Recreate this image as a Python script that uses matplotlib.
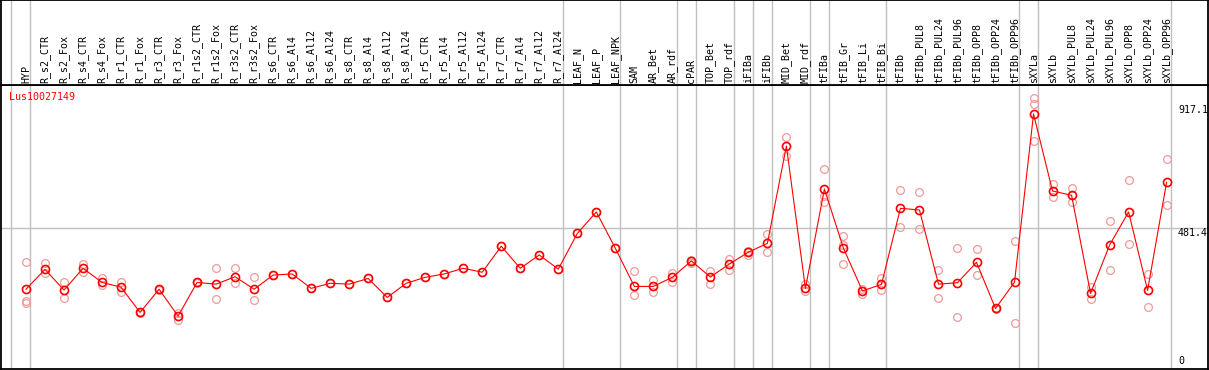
import matplotlib
matplotlib.use("Agg")
import matplotlib.pyplot as plt

# ---------------- data ----------------
categories = [
    "HYP", "R_s2_CTR", "R_s2_Fox", "R_s4_CTR", "R_s4_Fox", "R_r1_CTR", "R_r1_Fox",
    "R_r3_CTR", "R_r3_Fox", "R_r1s2_CTR", "R_r1s2_Fox", "R_r3s2_CTR", "R_r3s2_Fox",
    "R_s6_CTR", "R_s6_Al4", "R_s6_Al12", "R_s6_Al24", "R_s8_CTR", "R_s8_Al4",
    "R_s8_Al12", "R_s8_Al24", "R_r5_CTR", "R_r5_Al4", "R_r5_Al12", "R_r5_Al24",
    "R_r7_CTR", "R_r7_Al4", "R_r7_Al12", "R_r7_Al24", "LEAF_N", "LEAF_P", "LEAF_NPK",
    "SAM", "AR_Bet", "AR_rdf", "cPAR", "TOP_Bet", "TOP_rdf", "iFIBa", "iFIBb",
    "MID_Bet", "MID_rdf", "tFIBa", "tFIB_Gr", "tFIB_Li", "tFIB_Bi", "tFIBb",
    "tFIBb_PUL8", "tFIBb_PUL24", "tFIBb_PUL96", "tFIBb_OPP8", "tFIBb_OPP24",
    "tFIBb_OPP96", "sXYLa", "sXYLb", "sXYLb_PUL8", "sXYLb_PUL24", "sXYLb_PUL96",
    "sXYLb_OPP8", "sXYLb_OPP24", "sXYLb_OPP96",
]

mean_values = [
    266, 336, 263, 340, 290, 273, 184, 266, 171, 290, 284, 310, 266,
    316, 320, 269, 287, 284, 304, 237, 287, 308, 320, 340, 326,
    418, 340, 387, 337, 463, 539, 411,
    276, 276, 308, 366, 309, 355, 397, 428,
    772, 269, 620, 411, 260, 283, 552,
    546, 284, 289, 361, 198, 291,
    885, 613, 598, 251, 422, 539, 262, 644,
]

replicate_values = [
    [363, 224, 218], [357, 322], [290, 234], [354, 328], [304, 281], [290, 257],
    [186, 182], [268, 264], [181, 157], [292, 288], [340, 230], [340, 287],
    [308, 228], [316], [320], [269], [287], [284], [304], [237], [287], [308],
    [320], [340], [326], [418], [340], [387], [337], [463], [539], [411],
    [331, 245], [298, 257], [324, 291], [368, 360], [331, 283], [374, 334],
    [387, 402], [461, 398], [803, 737], [284, 260], [690, 596, 575],
    [454, 422, 354], [268, 250], [307, 263], [617, 487], [608, 478], [333, 234],
    [411, 167], [407, 316], [201, 196], [435, 146], [941, 919, 790], [638, 591],
    [623, 573], [273, 233], [506, 333], [652, 425], [320, 202], [726, 562],
]

group_ends = [-1, 0, 28, 31, 34, 35, 37, 38, 39, 41, 42, 45, 52, 53, 60]
axis_labels = ["917.1", "481.4", "0"]
axis_label_values = [917.1, 481.4, 0.0]
gene_name = "Lus10027149"

# ---------------- layout ----------------
W, H = 1209, 370
fig = plt.figure(figsize=(W / 100, H / 100), dpi=100)

px_left, px_right = 1, 1208
px_header = 85
px_bottom = 369
x0_px, dx_px = 26.0, 19.01
y0_px, scale = 364.5, 0.283

xlim = ((px_left - x0_px) / dx_px, (px_right - x0_px) / dx_px)
ylim = ((y0_px - px_bottom) / scale, (y0_px - px_header) / scale)

ax = fig.add_axes([px_left / W, (H - px_bottom) / H,
                   (px_right - px_left) / W, (px_bottom - px_header) / H])
hax = fig.add_axes([px_left / W, (H - px_header) / H,
                    (px_right - px_left) / W, px_header / H])

for a in (ax, hax):
    a.set_xlim(*xlim)
    a.set_xticks([])
    a.set_yticks([])
    a.set_facecolor("white")
    for s in a.spines.values():
        s.set_color("black")
        s.set_linewidth(1.3)

ax.set_ylim(*ylim)
hax.set_ylim(0, px_header)

grey = "#c0c0c0"
for g in group_ends:
    for a in (ax, hax):
        a.axvline(g + 0.235, color=grey, lw=1.0, zorder=1)

ax.axhline(axis_label_values[1], color=grey, lw=1.0, zorder=1)

mono = "DejaVu Sans Mono"
fs = 7.2

# header labels
for i, name in enumerate(categories):
    hax.text(i, 1.8, name, rotation=90, ha="center", va="bottom",
             fontsize=fs, family=mono, color="black")

# replicates
for i, reps in enumerate(replicate_values):
    ax.plot([i] * len(reps), reps, linestyle="none", marker="o",
            markersize=5.6, markerfacecolor="none", markeredgecolor="#f09a9a",
            markeredgewidth=0.9, zorder=2)

xs = list(range(len(categories)))
ax.plot(xs, mean_values, color="#ff0000", lw=0.8, zorder=3)
ax.plot(xs, mean_values, linestyle="none", marker="o", markersize=5.8,
        markerfacecolor="none", markeredgecolor="#ff0000",
        markeredgewidth=1.2, zorder=4)

# right-side value labels
lab_x = (1178 - x0_px) / dx_px
for lab, v in zip(axis_labels, axis_label_values):
    ax.text(lab_x, v, lab, ha="left", va="top" if v > 0 else "baseline",
            fontsize=fs, family=mono, color="black")

ax.text((9.3 - x0_px) / dx_px, 963, gene_name, ha="left", va="top",
        fontsize=fs, family=mono, color="#ff0000")

fig.savefig("out.png", dpi=100)
